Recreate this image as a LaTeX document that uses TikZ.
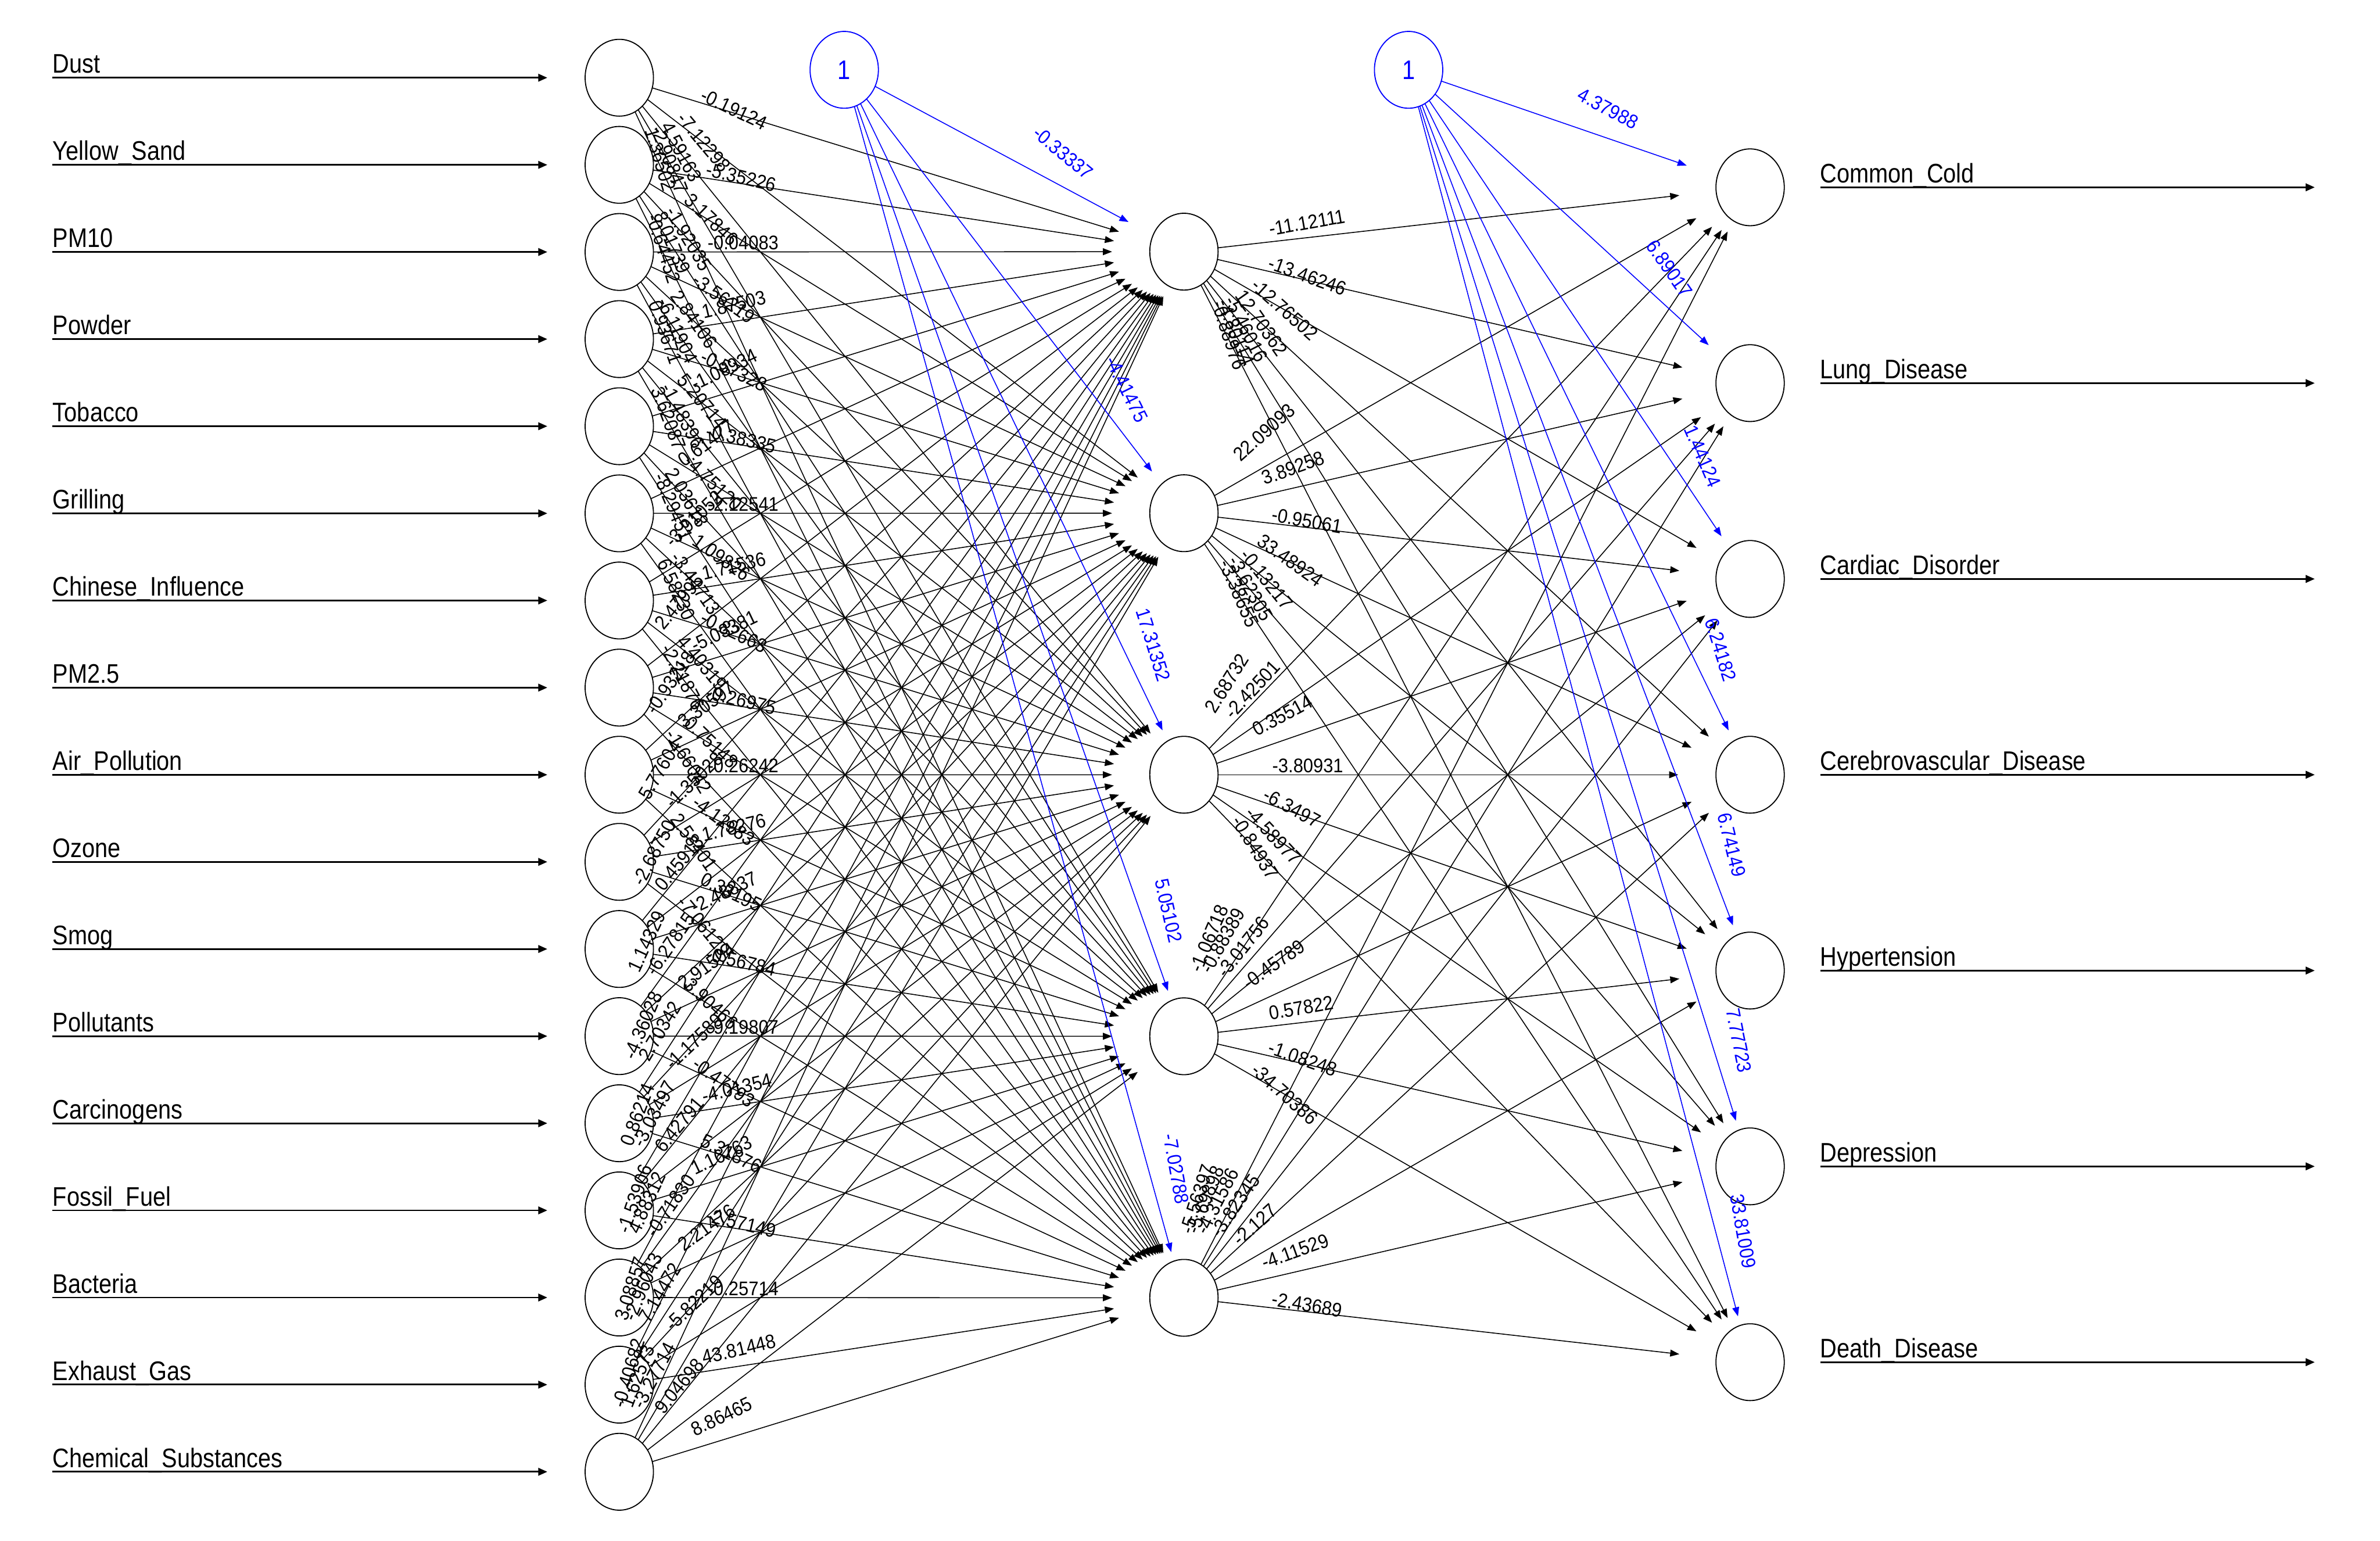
\documentclass[tikz,border=0pt]{standalone}
\usepackage{fontspec}
\setmainfont{Liberation Sans}
\newfontfamily\bigf{Liberation Sans}[FakeStretch=0.86]
\newfontfamily\smf{Liberation Sans}[FakeStretch=0.91]
\usetikzlibrary{calc,arrows.meta,shapes.geometric}
\definecolor{bblue}{RGB}{0,0,255}
\tikzset{
  neuron/.style={draw=black, line width=0.7pt, ellipse, minimum width=45pt, minimum height=50.6pt, inner sep=0pt},
  biasnode/.style={neuron, draw=bblue, text=bblue, font=\bigf\fontsize{17.7}{18}\selectfont},
  conn/.style={line width=0.6pt, -{Triangle[length=6pt,width=4.5pt]}},
  ioline/.style={line width=1.1pt, -{Triangle[length=6pt,width=5pt]}},
  iolabel/.style={font=\bigf\fontsize{17.7}{18}\selectfont, anchor=base west, inner sep=0pt},
  wlabel/.style={font=\smf\fontsize{13}{13}\selectfont, inner sep=0pt},
}
% #1 source node, #2 target node, #3 weight text, #4 colour, #5 0 = label near source, 1 = label near target
\newcommand\wconn[5]{%
  \path (#1.center); \pgfgetlastxy{\wXa}{\wYa}%
  \path (#2.center); \pgfgetlastxy{\wXb}{\wYb}%
  \pgfmathsetmacro\wDX{(\wXb-\wXa)/100}%
  \pgfmathsetmacro\wDY{(\wYb-\wYa)/100}%
  \pgfmathsetmacro\wLen{sqrt(\wDX*\wDX+\wDY*\wDY)}%
  \pgfmathsetmacro\wUX{\wDX/\wLen}%
  \pgfmathsetmacro\wUY{\wDY/\wLen}%
  \pgfmathsetmacro\wTS{1/sqrt((\wUX/22.5)^2+(\wUY/25.3)^2)}%
  \pgfmathsetmacro\wSX{\wTS*\wUX}%
  \pgfmathsetmacro\wSY{\wTS*\wUY}%
  \pgfmathsetmacro\wNA{\wDX/15.68}%
  \pgfmathsetmacro\wNB{\wDY/10.15}%
  \pgfmathsetmacro\wNN{sqrt(\wNA*\wNA+\wNB*\wNB)}%
  \pgfmathsetmacro\wPX{\wNA/\wNN*1568}%
  \pgfmathsetmacro\wPY{\wNB/\wNN*1015}%
  \pgfmathsetmacro\wAng{atan(\wNB/\wNA)}%
  \pgfmathsetmacro\wEX{0.0302*\wPX}%
  \pgfmathsetmacro\wEY{0.0302*\wPY}%
  \draw[conn,#4] ($(#1.center)+(\wSX pt,\wSY pt)$) -- ($(#2.center)-(\wEX pt,\wEY pt)$);
  \ifnum#5=0
    \pgfmathsetmacro\wSh{max(0,14*sin(\wAng))}%
    \pgfmathsetmacro\wLX{0.037*\wPX-\wSh*sin(\wAng)}%
    \pgfmathsetmacro\wLY{0.037*\wPY+\wSh*cos(\wAng)+1.5}%
    \node[wlabel,#4,anchor=base west,rotate=\wAng] at ($(#1.center)+(\wLX pt,\wLY pt)$) {#3};
  \else
    \pgfmathsetmacro\wLX{-0.059*\wPX-11*sin(\wAng)}%
    \pgfmathsetmacro\wLY{-0.059*\wPY+11*cos(\wAng)}%
    \node[wlabel,#4,anchor=base east,rotate=\wAng] at ($(#2.center)+(\wLX pt,\wLY pt)$) {#3};
  \fi
}
\begin{document}
\begin{tikzpicture}[x=1pt,y=-1pt]
\useasboundingbox (0,0) rectangle (1568,1015);
% input layer
\foreach \nm [count=\i] in {Dust,Yellow\_Sand,PM10,Powder,Tobacco,Grilling,Chinese\_Influence,PM2.5,Air\_Pollution,Ozone,Smog,Pollutants,Carcinogens,Fossil\_Fuel,Bacteria,Exhaust\_Gas,Chemical\_Substances} {
  \pgfmathsetmacro\yy{51.2+57.4*(\i-1)}
  \node[neuron] (I\i) at (408,\yy) {};
  \coordinate (IA\i) at (34.6,\yy);
  \node[iolabel] (IL\i) at (34.6,\yy-3) {\nm};
  \draw[ioline] (IA\i) -- ($(I\i.center)-(47.4pt,0pt)$);
}
% hidden layer
\foreach \j in {1,...,5} {
  \pgfmathsetmacro\yy{510.4+172.3*(\j-3)}
  \node[neuron] (H\j) at (780,\yy) {};
}
% output layer
\foreach \nm [count=\k] in {Common\_Cold,Lung\_Disease,Cardiac\_Disorder,Cerebrovascular\_Disease,Hypertension,Depression,Death\_Disease} {
  \pgfmathsetmacro\yy{510.4+129*(\k-4)}
  \node[neuron] (O\k) at (1153,\yy) {};
  \coordinate (OE\k) at (1525,\yy);
  \node[iolabel] (OL\k) at (1199,\yy-3) {\nm};
  \draw[ioline] ($(O\k.center)+(46.5pt,0pt)$) -- (OE\k);
}
% bias nodes
\node[biasnode] (B1) at (556.2,46) {1};
\node[biasnode] (B2) at (928,46) {1};
% input -> hidden
\foreach \vals [count=\i] in {
  {-0.19124,-7.12298,4.59163,-2.90847,1.36502},
  {-5.35226,3.17846,-1.92035,8.01739,-0.64452},
  {-0.04083,-3.56219,2.84106,-6.11904,0.93671},
  {1.87503,-0.57328,5.20714,-1.48396,3.62087},
  {-1.08934,-0.38335,-4.75120,2.03618,-8.29451},
  {0.61477,-2.12541,1.09826,-3.44713,6.58230},
  {-3.91052,1.71536,-0.82663,4.40319,-2.21876},
  {2.47095,-5.03381,-0.26975,0.75148,-1.66042},
  {-0.93218,3.30597,-0.26242,-4.12983,2.58401},
  {5.77604,-1.35028,1.78276,0.33195,-7.06129},
  {-2.68750,0.45913,-2.48837,-0.56784,3.90466},
  {1.14329,-6.27815,2.91504,-9.19807,-0.47793},
  {-4.36028,2.70342,-1.17589,-4.01354,5.31876},
  {0.86214,-3.03497,6.42791,1.16763,-2.57149},
  {-1.53906,4.88312,-0.71830,2.21476,-0.25714},
  {3.08857,-2.96043,7.14472,-5.82219,43.81448},
  {-0.40682,1.62573,-3.27714,9.04698,8.86465}} {
  \foreach \w [count=\j] in \vals {
    \wconn{I\i}{H\j}{\w}{black}{0}
  }
}
% hidden -> output
\foreach \vals [count=\j] in {
  {-11.12111,-13.46246,-12.76502,12.70362,-5.46016,-4.80114,-0.88976},
  {22.09093,3.89258,-0.95061,33.48924,-0.13217,-3.62305,-3.38655},
  {2.68732,-2.42501,0.35514,-3.80931,-6.3497,-4.58977,-0.84937},
  {-1.06718,-0.88389,-3.01756,-0.45789,0.57822,-1.08248,-34.70386},
  {-5.56397,-5.69898,-4.31586,-3.82345,-2.127,-4.11529,-2.43689}} {
  \foreach \w [count=\k] in \vals {
    \wconn{H\j}{O\k}{\w}{black}{0}
  }
}
% bias -> hidden
\foreach \w [count=\j] in {-0.33337,-4.41475,17.31352,5.05102,-7.02788} {
  \wconn{B1}{H\j}{\w}{bblue}{1}
}
% bias -> output
\foreach \w [count=\k] in {4.37988,6.89017,1.44124,6.24182,6.74149,7.77723,33.81009} {
  \wconn{B2}{O\k}{\w}{bblue}{1}
}
\end{tikzpicture}
\end{document}
